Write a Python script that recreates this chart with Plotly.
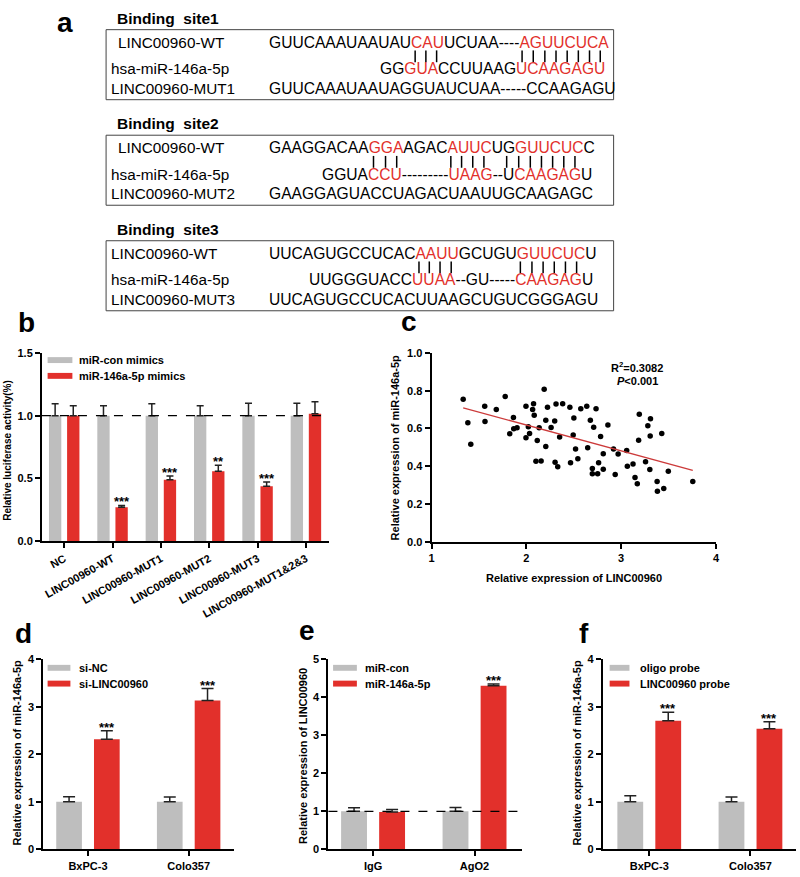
import plotly.graph_objects as go
import numpy as np

W, H = 800, 877
RED = "#e2302b"
GREY = "#bebebe"
FONT = "Liberation Sans, Arial, sans-serif"

# ---------------- data ----------------
# panel a : lowercase letters = red (paired) nucleotides
site_titles = ["Binding\u00a0 site1", "Binding\u00a0 site2", "Binding\u00a0 site3"]
wt_label = "LINC00960-WT"
mir_label = "hsa-miR-146a-5p"
mut_labels = ["LINC00960-MUT1", "LINC00960-MUT2", "LINC00960-MUT3"]
wt_seqs = ["GUUCAAAUAAUAUcauUCUAA----aguucuca",
           "GAAGGACAAggaAGACauucUGguucucC",
           "UUCAGUGCCUCACaauuGCUGUguucucU"]
mir_seqs = ["GGguaCCUUAAGucaagagu",
            "GGUAccu---------uaag--UcaagagU",
            "UUGGGUACCuuaa--GU-----caagagU"]
mut_seqs = ["GUUCAAAUAAUAGGUAUCUAA-----CCAAGAGU",
            "GAAGGAGUACCUAGACUAAUUGCAAGAGC",
            "UUCAGUGCCUCACUUAAGCUGUCGGGAGU"]
pair_pos = [[13, 14, 15, 25, 26, 27, 28, 29, 30, 31, 32],
            [9, 10, 11, 16, 17, 18, 19, 21, 22, 23, 24, 25, 26, 27],
            [13, 14, 15, 16, 22, 23, 24, 25, 26, 27]]

# panel b
b_cats = ["NC", "LINC00960-WT", "LINC00960-MUT1", "LINC00960-MUT2",
          "LINC00960-MUT3", "LINC00960-MUT1&2&3"]
b_con = [1.0, 1.0, 1.0, 1.0, 1.0, 1.0]
b_con_err = [0.095, 0.08, 0.095, 0.08, 0.10, 0.10]
b_mim = [1.0, 0.27, 0.49, 0.558, 0.438, 1.016]
b_mim_err = [0.08, 0.015, 0.03, 0.047, 0.033, 0.095]
b_sig = ["", "***", "***", "**", "***", ""]

# panel c
c_x = [1.334, 1.383, 1.414, 1.561, 1.564, 1.683, 1.777, 1.825, 1.864, 1.867,
       1.902, 1.996, 1.996, 2.021, 2.034, 2.066, 2.076, 2.083, 2.101, 2.115,
       2.135, 2.156, 2.188, 2.205, 2.205, 2.223, 2.261, 2.299, 2.303, 2.313,
       2.331, 2.351, 2.383, 2.459, 2.466, 2.494, 2.501, 2.519, 2.543, 2.574,
       2.637, 2.647, 2.675, 2.696, 2.696, 2.710, 2.735, 2.752, 2.762, 2.783,
       2.811, 2.811, 2.860, 2.919, 2.937, 2.968, 3.058, 3.065, 3.125, 3.146,
       3.170, 3.184, 3.191, 3.257, 3.281, 3.302, 3.306, 3.309, 3.379, 3.382,
       3.428, 3.449, 3.497, 3.755]
c_y = [0.755, 0.630, 0.517, 0.717, 0.637, 0.701, 0.769, 0.572, 0.658, 0.598,
       0.604, 0.718, 0.551, 0.609, 0.574, 0.701, 0.731, 0.670, 0.426, 0.536,
       0.604, 0.428, 0.807, 0.644, 0.505, 0.712, 0.605, 0.640, 0.421, 0.729,
       0.397, 0.555, 0.731, 0.712, 0.419, 0.565, 0.656, 0.492, 0.440, 0.705,
       0.717, 0.498, 0.644, 0.388, 0.360, 0.607, 0.705, 0.360, 0.419, 0.558,
       0.466, 0.384, 0.618, 0.492, 0.357, 0.465, 0.484, 0.400, 0.412, 0.341,
       0.308, 0.538, 0.675, 0.424, 0.614, 0.383, 0.560, 0.651, 0.320, 0.268,
       0.574, 0.282, 0.374, 0.320]
c_stats = ["R<sup>2</sup>=0.3082", "<i>P</i>&lt;0.001"]

# panel d
d_cats = ["BxPC-3", "Colo357"]
d_nc = [1.0, 1.0]
d_nc_err = [0.105, 0.10]
d_si = [2.317, 3.133]
d_si_err = [0.18, 0.25]
d_sig = ["***", "***"]

# panel e
e_cats = ["IgG", "AgO2"]
e_con = [1.0, 1.0]
e_con_err = [0.09, 0.10]
e_mir = [0.98, 4.30]
e_mir_err = [0.07, 0.05]
e_sig = ["", "***"]

# panel f
f_cats = ["BxPC-3", "Colo357"]
f_oligo = [1.0, 1.0]
f_oligo_err = [0.127, 0.10]
f_probe = [2.704, 2.538]
f_probe_err = [0.18, 0.145]
f_sig = ["***", "***"]

# ---------------- helpers ----------------
def fx(x):
    return x / W


def fy(y):
    return 1 - y / H


CW = {"A": 0.667, "C": 0.722, "G": 0.778, "U": 0.722, "-": 0.333}


def seq_html(s):
    out, i = [], 0
    while i < len(s):
        j = i
        low = s[i].islower()
        while j < len(s) and s[j].islower() == low:
            j += 1
        seg = s[i:j].upper()
        out.append(f"<span style='color:{RED}'>{seg}</span>" if low else seg)
        i = j
    return "".join(out)


fig = go.Figure()
annotations = []
shapes = []


def text(x, y, t, size, bold=False, xanchor="left", color="black", angle=0):
    annotations.append(dict(
        x=fx(x), y=fy(y), xref="paper", yref="paper", text=t, showarrow=False,
        xanchor=xanchor, yanchor="middle", textangle=angle, borderpad=0, borderwidth=0,
        font=dict(family=FONT, size=size, color=color, weight="bold" if bold else "normal")))


# ---------------- panel a ----------------
text(63, 17, "a", 28, bold=True, xanchor="center")
FS = 15.6
X0 = 268
box_tops = [24, 131, 238]
wt_label_x = [116, 116, 109]
for s in range(3):
    top = box_tops[s]
    text(115, top - 11.5, site_titles[s], 15.5, bold=True)
    shapes.append(dict(type="rect", xref="paper", yref="paper",
                       x0=fx(104), x1=fx(616), y0=fy(top), y1=fy(top + 71),
                       line=dict(color="#444", width=1)))
    text(wt_label_x[s], top + 12.5, wt_label, 15.3)
    text(109, top + 39.5, mir_label, 15.3)
    text(109, top + 59.5, mut_labels[s], 15.3)
    wt = wt_seqs[s]
    widths = [CW[ch.upper()] * FS for ch in wt]
    x_end = X0 + sum(widths)
    text(X0, top + 12.5, seq_html(wt), FS)
    text(x_end, top + 39.5, seq_html(mir_seqs[s]), FS, xanchor="right")
    text(X0, top + 59.5, seq_html(mut_seqs[s]), FS)
    cum = np.concatenate([[0], np.cumsum(widths)])
    for i in pair_pos[s]:
        cx = X0 + cum[i] + widths[i] / 2
        shapes.append(dict(type="line", xref="paper", yref="paper",
                           x0=fx(cx), x1=fx(cx), y0=fy(top + 21), y1=fy(top + 33),
                           line=dict(color="black", width=1.5)))

# ---------------- bar panels ----------------
BARGAP, GROUPGAP = 0.25, 0.32
OFF = (1 - BARGAP) / 4


def err(arr, w):
    return dict(type="data", array=arr, arrayminus=[0] * len(arr), symmetric=False,
                color="#222", thickness=1.5, width=w)


def bar_panel(cats, v1, e1, v2, e2, sig, n, capw):
    xa, ya = ("x" if n == 1 else f"x{n}"), ("y" if n == 1 else f"y{n}")
    fig.add_trace(go.Bar(x=cats, y=v1, marker=dict(color=GREY, line=dict(width=0)),
                         error_y=err(e1, capw), xaxis=xa, yaxis=ya, showlegend=False))
    fig.add_trace(go.Bar(x=cats, y=v2, marker=dict(color=RED, line=dict(width=0)),
                         error_y=err(e2, capw), xaxis=xa, yaxis=ya, showlegend=False))
    for i, sgn in enumerate(sig):
        if sgn:
            annotations.append(dict(x=i + OFF, y=v2[i] + e2[i], xref=xa, yref=ya,
                                    text=sgn, showarrow=False, yanchor="bottom", yshift=-6,
                                    font=dict(family=FONT, size=13, color="black", weight="bold")))


bar_panel(b_cats, b_con, b_con_err, b_mim, b_mim_err, b_sig, 1, 3.5)
bar_panel(d_cats, d_nc, d_nc_err, d_si, d_si_err, d_sig, 3, 6)
bar_panel(e_cats, e_con, e_con_err, e_mir, e_mir_err, e_sig, 4, 6)
bar_panel(f_cats, f_oligo, f_oligo_err, f_probe, f_probe_err, f_sig, 5, 6)

# ---------------- panel c ----------------
fig.add_trace(go.Scatter(x=c_x, y=c_y, mode="markers", xaxis="x2", yaxis="y2",
                         marker=dict(color="black", size=5.5), showlegend=False))
k, b0 = np.polyfit(c_x, c_y, 1)
lx = np.array([min(c_x), max(c_x)])
fig.add_trace(go.Scatter(x=lx, y=k * lx + b0, mode="lines", xaxis="x2", yaxis="y2",
                         line=dict(color="#cc3a3a", width=1.3), showlegend=False))
text(640, 366, c_stats[0], 11, bold=True, xanchor="center")
text(640, 380, c_stats[1], 11, bold=True, xanchor="center")

# dashed reference lines at 1.0
for xa, ya in [("x", "y"), ("x4", "y4")]:
    shapes.append(dict(type="line", xref=f"{xa} domain", yref=ya, x0=0, x1=1, y0=1, y1=1,
                       line=dict(color="black", width=1.2, dash="dash")))

# ---------------- legends ----------------
legends = [
    (45, 70, 77, 359, 375, ["miR-con mimics", "miR-146a-5p mimics"]),
    (45, 68, 77, 671, 687, ["si-NC", "si-LINC00960"]),
    (333, 357, 365, 671, 687, ["miR-con", "miR-146a-5p"]),
    (612, 632, 643, 671, 687, ["oligo probe", "LINC00960 probe"]),
]
for xl, xr, xt, y1, y2, labs in legends:
    for yy, col, lab in [(y1, GREY, labs[0]), (y2, RED, labs[1])]:
        shapes.append(dict(type="rect", xref="paper", yref="paper", x0=fx(xl), x1=fx(xr),
                           y0=fy(yy - 3), y1=fy(yy + 3), line=dict(width=0), fillcolor=col))
        text(xt, yy, lab, 11, bold=True)

# ---------------- panel labels & axis titles ----------------
for lab, x, y in [("b", 24, 321), ("c", 410, 320), ("d", 21, 636), ("e", 307, 633), ("f", 586, 636)]:
    text(x, y, lab, 28, bold=True, xanchor="center")

text(5, 450, "Relative luciferase activity(%)", 10, bold=True, xanchor="center", angle=-90)
text(395, 448, "Relative expression of miR-146a-5p", 11, bold=True, xanchor="center", angle=-90)
text(576, 580, "Relative expression of LINC00960", 11, bold=True, xanchor="center")
text(14, 757, "Relative expression of miR-146a-5p", 11, bold=True, xanchor="center", angle=-90)
text(302, 760, "Relative expression of LINC00960", 11, bold=True, xanchor="center", angle=-90)
text(579, 757, "Relative expression of miR-146a-5p", 11, bold=True, xanchor="center", angle=-90)

# ---------------- axes ----------------
def ax(**kw):
    base = dict(showline=True, linecolor="black", linewidth=2, ticks="outside", ticklen=5,
                tickwidth=2, tickcolor="black", showgrid=False, zeroline=False,
                tickfont=dict(family=FONT, size=11, color="black", weight="bold"))
    base.update(kw)
    return base


fig.update_layout(
    width=W, height=H, margin=dict(l=0, r=0, t=0, b=0),
    paper_bgcolor="white", plot_bgcolor="white",
    barmode="group", bargap=BARGAP, bargroupgap=GROUPGAP,
    showlegend=False,
    xaxis=ax(domain=[fx(39.3), fx(329)], range=[-0.46, 5.48], anchor="y", tickangle=-29),
    yaxis=ax(domain=[fy(542.7), fy(351.7)], range=[0, 1.5], anchor="x",
             tickvals=[0, 0.5, 1.0, 1.5], tickformat=".1f"),
    xaxis2=ax(domain=[fx(432.3), fx(719.3)], range=[1, 4], anchor="y2", tickvals=[1, 2, 3, 4]),
    yaxis2=ax(domain=[fy(543.3), fy(351.7)], range=[0, 1], anchor="x2",
              tickvals=[0, 0.2, 0.4, 0.6, 0.8, 1.0], tickformat=".1f"),
    xaxis3=ax(domain=[fx(40.7), fx(233)], range=[-0.443, 1.45], anchor="y3"),
    yaxis3=ax(domain=[fy(855), fy(662.3)], range=[0, 4], anchor="x3", tickvals=[0, 1, 2, 3, 4]),
    xaxis4=ax(domain=[fx(328.3), fx(523.3)], range=[-0.44, 1.465], anchor="y4"),
    yaxis4=ax(domain=[fy(855), fy(662.3)], range=[0, 5], anchor="x4", tickvals=[0, 1, 2, 3, 4, 5]),
    xaxis5=ax(domain=[fx(605), 1.0], range=[-0.46, 1.45], anchor="y5"),
    yaxis5=ax(domain=[fy(855), fy(662.3)], range=[0, 4], anchor="x5", tickvals=[0, 1, 2, 3, 4]),
    annotations=annotations, shapes=shapes,
)

fig.write_html("out.html", config={"displayModeBar": False},
               post_script="document.body.style.margin='0';document.body.style.overflow='hidden';")
